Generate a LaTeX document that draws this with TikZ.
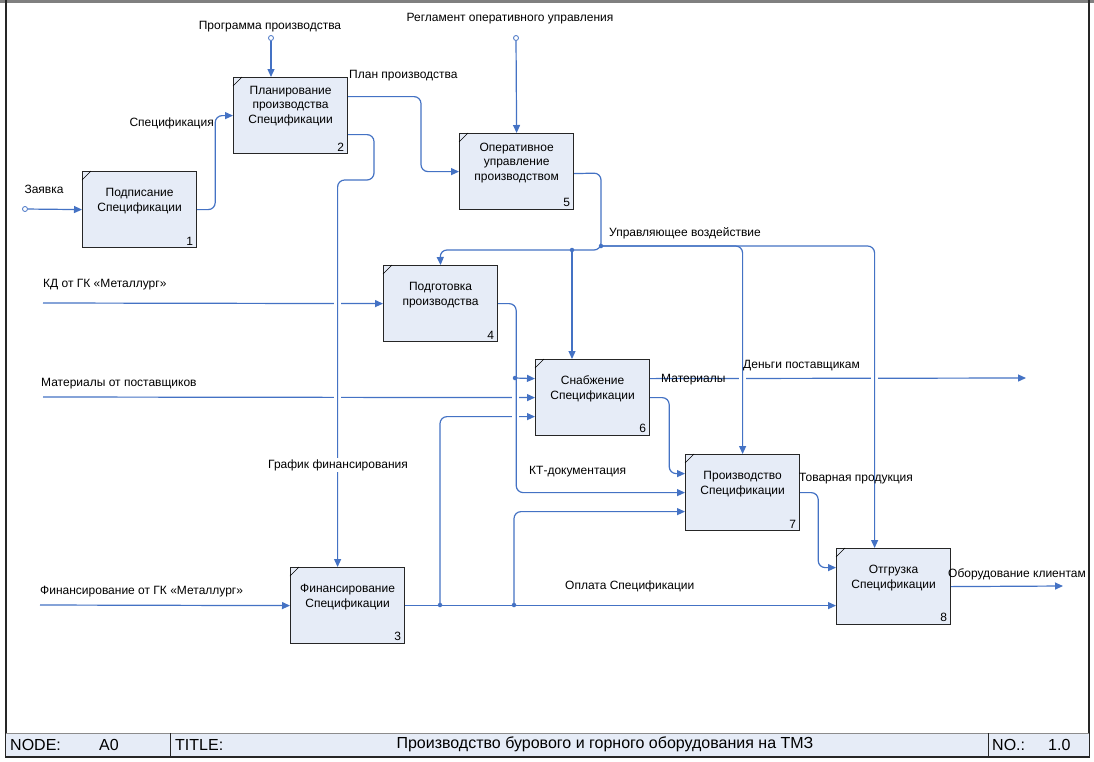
\documentclass[tikz,border=0pt]{standalone}
\usepackage{fontspec}
\setmainfont{Liberation Sans}
\usetikzlibrary{arrows.meta,calc}
\definecolor{lnblue}{RGB}{68,114,196}
\definecolor{boxfill}{RGB}{230,236,247}
\pgfdeclarelayer{backg}
\pgfdeclarelayer{bg}
\pgfsetlayers{backg,bg,main}
\begin{document}
\begin{tikzpicture}[x=1pt,y=-1pt,
  font=\fontsize{12}{14.5}\selectfont,
  box/.style={draw=black!85,line width=1.2pt,fill=boxfill,minimum width=114pt,minimum height=76pt,inner sep=0pt,anchor=north west},
  boxtxt/.style={align=center,inner sep=0pt},
  num/.style={anchor=south east,inner sep=0pt},
  conn/.style={draw=lnblue,line width=1.2pt,rounded corners=7pt,-{Triangle[length=8pt,width=7pt]}},
  dotn/.style={circle,fill=lnblue,inner sep=0pt,minimum size=4.5pt},
  srcn/.style={circle,draw=lnblue,fill=white,line width=0.8pt,inner sep=0pt,minimum size=5pt},
  lbl/.style={inner sep=0pt},
  gapw/.style={fill=white},
  foot/.style={inner sep=0pt,font=\fontsize{16}{18}\selectfont}]
\useasboundingbox (0,0) rectangle (1094,761);
\begin{pgfonlayer}{backg}
\fill[white] (0,0) rectangle (1094,761);
\end{pgfonlayer}
% frame
\fill[black!50] (0,0) rectangle (1094,2.5);
\draw[black!85,line width=1.2pt] (6,0) -- (6,757);
\draw[black!85,line width=1.2pt] (1089,0) -- (1089,757);
% footer
\fill[boxfill] (6,733) rectangle (1089,757);
\draw[black!45,line width=1pt] (6,733) -- (1089,733);
\draw[black!85,line width=1.6pt] (5.4,757) -- (1089.6,757);
\draw[black!85,line width=1pt] (170,733) -- (170,757);
\draw[black!85,line width=1pt] (988,733) -- (988,757);
\node[foot,anchor=west] (fnode) at (10,744.5) {NODE:};
\node[foot,anchor=west] (fa0) at (99,744.5) {A0};
\node[foot,anchor=west] (ftitle) at (175,744.5) {TITLE:};
\node[foot] (ftext) at (605,744.5) {Производство бурового и горного оборудования на ТМЗ};
\node[foot,anchor=west] (fno) at (992,744.5) {NO.:};
\node[foot,anchor=west] (fnum) at (1048,744.5) {1.0};

% boxes
\node[box] (b1) at (82,171) {};
\node[box] (b2) at (233,77) {};
\node[box] (b5) at (459,133) {};
\node[box] (b4) at (383,265) {};
\node[box] (b6) at (535,359) {};
\node[box] (b7) at (685,454) {};
\node[box] (b3) at (290,567) {};
\node[box] (b8) at (836,548) {};
\foreach \b/\n in {b1/1,b2/2,b3/3,b4/4,b5/5,b6/6,b7/7,b8/8}{
  \draw[line width=0.6pt] ($(\b.north west)+(0,9)$) -- ($(\b.north west)+(9,0)$);
  \node[num] (n\b) at ($(\b.south east)+(-4,-3)$) {\n};
}
\node[boxtxt] (t1) at ($(b1.north)+(0,30)$) {Подписание\\Спецификации};
\node[boxtxt] (t2) at ($(b2.north)+(0,29)$) {Планирование\\производства\\Спецификации};
\node[boxtxt] (t5) at ($(b5.north)+(0,30)$) {Оперативное\\управление\\производством};
\node[boxtxt] (t4) at ($(b4.north)+(0,30)$) {Подготовка\\производства};
\node[boxtxt] (t6) at ($(b6.north)+(0,30)$) {Снабжение\\Спецификации};
\node[boxtxt] (t7) at ($(b7.north)+(0,30)$) {Производство\\Спецификации};
\node[boxtxt] (t3) at ($(b3.north)+(0,30)$) {Финансирование\\Спецификации};
\node[boxtxt] (t8) at ($(b8.north)+(0,30)$) {Отгрузка\\Спецификации};

% free ends
\node[srcn] (zv) at (25,209) {};
\node[srcn] (pp) at (271,38) {};
\node[srcn] (rg) at (516,38) {};
\coordinate (kd) at (43,303);
\coordinate (mp) at (43,397);
\coordinate (fin) at (40,605);
\coordinate (mo) at (1026,378);
\coordinate (oc) at (1063,586);
\coordinate (j1) at (601,246);
\coordinate (j2) at (572,250);
\coordinate (j3) at (515,378);
\coordinate (j4) at (440,605);
\coordinate (j5) at (514,605);

\begin{pgfonlayer}{bg}
% lines that get crossed
\draw[conn] (kd) -- (b4.west);
\draw[conn] (mp) -- (b6.west);
\draw[conn] (j4) |- ($(b6.west)+(0,19)$);
\draw[conn] ($(b6.east)+(0,-19)$) -- (mo);
% gaps at crossings
\fill[gapw] (333.5,300) rectangle (340.5,306);
\fill[gapw] (333.5,394) rectangle (340.5,400);
\fill[gapw] (511.5,394) rectangle (518.5,400);
\fill[gapw] (511.5,413) rectangle (518.5,419);
\fill[gapw] (738.5,375) rectangle (745.5,381);
\fill[gapw] (870.5,375) rectangle (877.5,381);
% other connectors
\draw[conn] (zv) -- (b1.west);
\draw[conn] (b1.east) -- ++(18,0) |- (b2.west);
\draw[conn] (pp) -- (pp |- b2.north);
\draw[conn] ($(b2.east)+(0,-19)$) -| ($(b5.west)+(-38,0)$) -- (b5.west);
\draw[conn] ($(b2.east)+(0,19)$) -| (374,180) -| ($(b3.north)+(-10,0)$);
\draw[conn] (rg) -- (b5.north);
\draw[conn] ($(b5.east)+(0,2)$) -- (601,173) -- (601,250) -- (440,250) -- (b4.north);
\draw[conn] (j1) -| (b7.north);
\draw[conn] (j1) -| ($(b8.north)+(-19,0)$);
\draw[conn] (j2) -- (j2 |- b6.north);
\draw[conn] (b4.east) -- ++(18,0) |- (b7.west);
\draw[conn] (j3) -- ($(b6.west)+(0,-19)$);
\draw[conn] (b6.east) -- ++(19,0) |- ($(b7.west)+(0,-19)$);
\draw[conn] (b7.east) -- ++(18,0) |- ($(b8.west)+(0,-19)$);
\draw[conn] (fin) -- (b3.west);
\draw[conn] (b3.east) -- ($(b8.west)+(0,19)$);
\draw[conn] (j5) |- ($(b7.west)+(0,19)$);
\draw[conn] (b8.east) -- (oc);
\end{pgfonlayer}
\node[dotn] (d1) at (j1) {};
\node[dotn] (d2) at (j2) {};
\node[dotn] (d3) at (j3) {};
\node[dotn] (d4) at (j4) {};
\node[dotn] (d5) at (j5) {};

% labels
\node[lbl] (l1) at (44,189) {Заявка};
\node[lbl,anchor=east] (l2) at (214,123) {Спецификация};
\node[lbl] (l3) at (270,27) {Программа производства};
\node[lbl,anchor=west] (l4) at (349,76) {План производства};
\node[lbl] (l5) at (510,19) {Регламент оперативного управления};
\node[lbl,anchor=west] (l6) at (609,233) {Управляющее воздействие};
\node[lbl,anchor=west] (l7) at (43,285) {КД от ГК «Металлург»};
\node[lbl,anchor=west] (l8) at (41,384) {Материалы от поставщиков};
\node[lbl,fill=white,inner sep=1pt] (l9) at (338,465) {График финансирования};
\node[lbl,anchor=west] (l10) at (529,472) {КТ-документация};
\node[lbl,anchor=west] (l11) at (661,380) {Материалы};
\node[lbl,anchor=west] (l12) at (743,366) {Деньги поставщикам};
\node[lbl,anchor=west] (l13) at (799,479) {Товарная продукция};
\node[lbl,anchor=west] (l14) at (40,592) {Финансирование от ГК «Металлург»};
\node[lbl,anchor=west] (l15) at (565,586) {Оплата Спецификации};
\node[lbl,anchor=west] (l16) at (948,574) {Оборудование клиентам};
\end{tikzpicture}
\end{document}
